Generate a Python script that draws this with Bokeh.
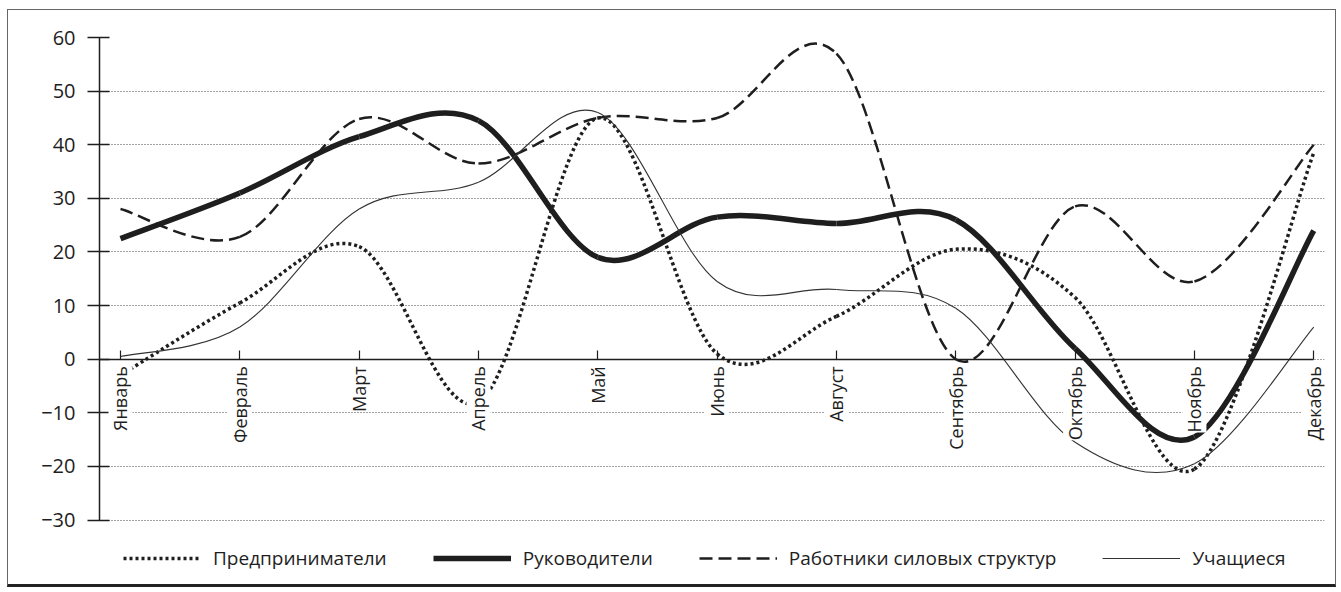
import numpy as np
from bokeh.plotting import figure
from bokeh.models import ColumnDataSource, LabelSet, Legend, LegendItem
from bokeh.embed import file_html
from bokeh.resources import INLINE
from bokeh.core.properties import value

# ---- data ----
months = ["Январь", "Февраль", "Март", "Апрель", "Май", "Июнь",
          "Август", "Сентябрь", "Октябрь", "Ноябрь", "Декабрь"]
predprinimateli = [-3, 10.5, 21, -8, 45, 1, 8, 20.5, 11.5, -20.5, 38.5]
rukovoditeli = [22.5, 31, 41.5, 44.5, 19, 26.5, 25.3, 26, 2, -14.5, 24]
rabotniki = [28, 22.8, 44.8, 36.5, 45, 45, 57, 0, 28.5, 14.5, 40]
uchashchiesya = [0.5, 6, 28, 33, 46, 14.5, 13, 9.5, -15.5, -19.5, 6]
y_ticks = [-30, -20, -10, 0, 10, 20, 30, 40, 50, 60]
series_names = ["Предприниматели", "Руководители",
                "Работники силовых структур", "Учащиеся"]

FONT = "Open Sans"
INK = "#1e1e1e"


def bezier_source(vals):
    """Smooth (Catmull-Rom) curve through the category points as Bezier segments."""
    xs = list(range(len(vals)))
    ys = list(vals)
    n = len(xs)
    d = dict(x0=[], y0=[], x1=[], y1=[], cx0=[], cy0=[], cx1=[], cy1=[])
    for i in range(n - 1):
        ym = ys[i - 1] if i > 0 else ys[i]
        xm = xs[i - 1] if i > 0 else xs[i]
        yp = ys[i + 2] if i + 2 < n else ys[i + 1]
        xp = xs[i + 2] if i + 2 < n else xs[i + 1]
        d["x0"].append(xs[i]); d["y0"].append(ys[i])
        d["x1"].append(xs[i + 1]); d["y1"].append(ys[i + 1])
        d["cx0"].append(xs[i] + (xs[i + 1] - xm) / 6.0)
        d["cy0"].append(ys[i] + (ys[i + 1] - ym) / 6.0)
        d["cx1"].append(xs[i + 1] - (xp - xs[i]) / 6.0)
        d["cy1"].append(ys[i + 1] - (yp - ys[i]) / 6.0)
    return ColumnDataSource(d)


X_START, X_LAST = -0.176, len(months) - 1
p = figure(width=1329, height=578, output_backend="svg", toolbar_location=None,
           x_range=(X_START, X_LAST + 0.09), y_range=(-41.65, 60),
           min_border_left=91, min_border_right=13, min_border_top=27,
           min_border_bottom=6)
p.outline_line_color = None
p.background_fill_color = "white"
p.border_fill_color = "white"
p.styles = {"margin-left": "7px", "margin-top": "9px",
            "border-top": "1.5px solid #666", "border-left": "1.5px solid #666",
            "border-right": "1.5px solid #666", "border-bottom": "3px solid #222"}

# grid
p.xgrid.visible = False
p.ygrid.ticker = y_ticks
p.ygrid.grid_line_color = "#444444"
p.ygrid.grid_line_dash = "1 2"
p.ygrid.grid_line_width = 1

# y axis
p.yaxis.ticker = y_ticks
p.yaxis.bounds = (y_ticks[0], y_ticks[-1])
p.yaxis.major_label_overrides = {t: (f"\u2212{abs(t)}" if t < 0 else str(t)) for t in y_ticks}
p.yaxis.axis_line_color = INK
p.yaxis.axis_line_width = 1.5
p.yaxis.major_tick_line_color = INK
p.yaxis.major_tick_line_width = 1.5
p.yaxis.major_tick_in = 10
p.yaxis.major_tick_out = 12
p.yaxis.minor_tick_line_color = None
p.yaxis.major_label_standoff = 12
p.yaxis.major_label_text_font = FONT
p.yaxis.major_label_text_font_size = "20px"
p.yaxis.major_label_text_color = INK

# x axis at zero
p.xaxis.ticker = list(range(len(months)))
p.xaxis.bounds = (X_START, X_LAST)
p.xaxis.fixed_location = 0
p.xaxis.axis_line_color = INK
p.xaxis.axis_line_width = 1.5
p.xaxis.major_tick_line_color = INK
p.xaxis.major_tick_line_width = 1.2
p.xaxis.major_tick_in = 9
p.xaxis.major_tick_out = 0
p.xaxis.minor_tick_line_color = None
p.xaxis.major_label_overrides = {i: "" for i in range(len(months))}
p.xaxis.major_label_standoff = 0
p.xaxis.major_label_text_font_size = "1px"

styles = [
    dict(line_color=INK, line_width=3.5, line_dash="3 3"),
    dict(line_color=INK, line_width=5.5),
    dict(line_color=INK, line_width=2.5, line_dash="13 6"),
    dict(line_color="#333333", line_width=1.1),
]
all_series = [predprinimateli, rukovoditeli, rabotniki, uchashchiesya]

items = []
for name, vals, st in zip(series_names, all_series, styles):
    src = bezier_source(vals)
    p.bezier(x0="x0", y0="y0", x1="x1", y1="y1", cx0="cx0", cy0="cy0",
             cx1="cx1", cy1="cy1", source=src, **st)
    proxy = p.line(x=[np.nan, np.nan], y=[np.nan, np.nan], **st)
    items.append(LegendItem(label=name, renderers=[proxy]))

# category labels (rotated, on white boxes that break the lines)
lab_src = ColumnDataSource(dict(x=list(range(len(months))), y=[0] * len(months), text=months))
labels = LabelSet(x="x", y="y", text="text", source=lab_src, angle=np.pi / 2,
                  text_align="right", text_baseline="middle", y_offset=-7,
                  text_font=value(FONT), text_font_size="18px", text_color=INK,
                  background_fill_color="white")
p.add_layout(labels)

legend = Legend(items=items, orientation="horizontal", location=(24, 11),
                label_text_font=FONT, label_text_font_size="19px",
                label_text_color=INK, glyph_width=78, label_standoff=12,
                spacing=46, padding=4, margin=0, border_line_color=None,
                background_fill_alpha=0)
p.add_layout(legend)

open("out.html", "w").write(file_html(p, INLINE))
